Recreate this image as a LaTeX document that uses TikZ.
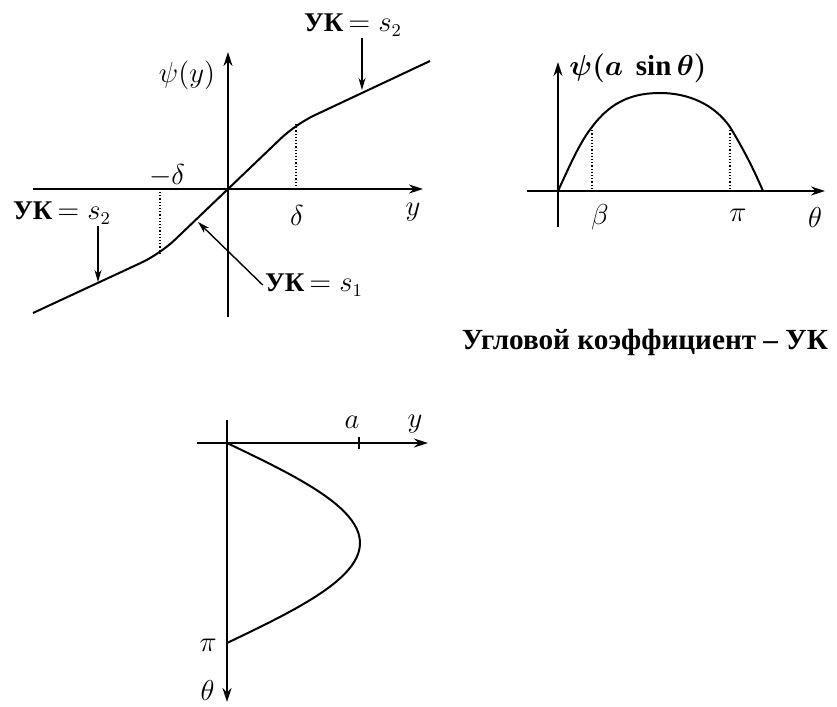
\documentclass[tikz,border=0pt]{standalone}
\usepackage{amsmath}
\usepackage{fontspec}
\setmainfont{Liberation Serif}
\usetikzlibrary{arrows.meta}

\begin{document}
\begin{tikzpicture}[
  x=0.5pt,y=-0.5pt,
  font=\fontsize{13}{15}\selectfont,
  ax/.style={line width=0.8pt,-{Stealth[length=7pt,width=4.5pt]}},
  crv/.style={line width=1pt},
  dots/.style={densely dotted,line width=0.6pt},
  ar/.style={line width=0.7pt,-{Stealth[length=6pt,width=3.5pt]}},
  lab/.style={inner sep=1pt,font=\fontsize{15}{17}\selectfont},
  txt/.style={inner sep=1pt,font=\fontsize{13.5}{15}\selectfont\bfseries}
]
\useasboundingbox (0,0) rectangle (837,707);

\draw[ax] (33,189) -- (423,189);
\draw[ax] (228,317) -- (228,52);
\coordinate (o1) at (228,189);
\coordinate (dm) at (160,254);
\coordinate (dp) at (296,124);
\draw[crv,rounded corners=10pt] (33,313) -- (dm) -- (o1) -- (dp) -- (430,61);
\draw[dots] (dm) -- (dm |- o1);
\draw[dots] (dp) -- (dp |- o1);
\node[lab] (psiy) at (187,75) {$\psi(y)$};
\node[lab] (mdel) at (167,176) {$-\delta$};
\node[lab] (pdel) at (297,215) {$\delta$};
\node[lab] (ylab) at (413,212) {$y$};

\node[txt] (uktop) at (353,25) {УК$\,=s_2$};
\node[txt] (ukleft) at (62,213) {УК$\,=s_2$};
\node[txt] (ukmid) at (314,285) {УК$\,=s_1$};
\coordinate (ptop) at (362,90);
\coordinate (pleft) at (98,282);
\coordinate (pmid) at (198,222);
\draw[ar] (uktop.south -| ptop) -- (ptop);
\draw[ar] (ukleft.south -| pleft) -- (pleft);
\draw[ar] (ukmid.west) -- (pmid);

\draw[ax] (527,191) -- (825,191);
\draw[ax] (558,227) -- (558,62);
\coordinate (o2) at (558,191);
\coordinate (bt) at (592,127);
\coordinate (pt) at (730,127);
\draw[crv] (o2) .. controls (570,165) and (580,142) .. (bt)
  .. controls (612,100) and (635,93) .. (660,93)
  .. controls (688,93) and (714,104) .. (pt)
  .. controls (744,150) and (754,170) .. (763,191);
\draw[dots] (bt) -- (bt |- o2);
\draw[dots] (pt) -- (pt |- o2);
\node[lab,font=\fontsize{14.5}{16}\selectfont] (psia) at (638,68) {$\boldsymbol{\psi(a\ \sin\theta)}$};
\node[lab] (beta) at (600,217) {$\beta$};
\node[lab] (pia) at (738,215) {$\pi$};
\node[lab] (tha) at (815,217) {$\theta$};

\node[txt,font=\fontsize{14.6}{16}\selectfont\bfseries] (legend) at (645,342) {Угловой коэффициент – УК};

\draw[ax] (197,443) -- (428,443);
\draw[ax] (227,420) -- (227,702);
\coordinate (o3) at (227,443);
\coordinate (ta) at (359,443);
\draw[line width=0.8pt] ([yshift=3pt]ta) -- ([yshift=-3pt]ta);
\draw[crv] plot[domain=0:1,samples=50] ({227+133*sin(180*\x)},{443+200*\x});
\node[lab] (alab) at (352,422) {$a$};
\node[lab] (ylab3) at (415,424) {$y$};
\node[lab,anchor=east] (pib) at (219,645) {$\pi$};
\node[lab,anchor=east] (thb) at (217,690) {$\theta$};
\end{tikzpicture}
\end{document}
